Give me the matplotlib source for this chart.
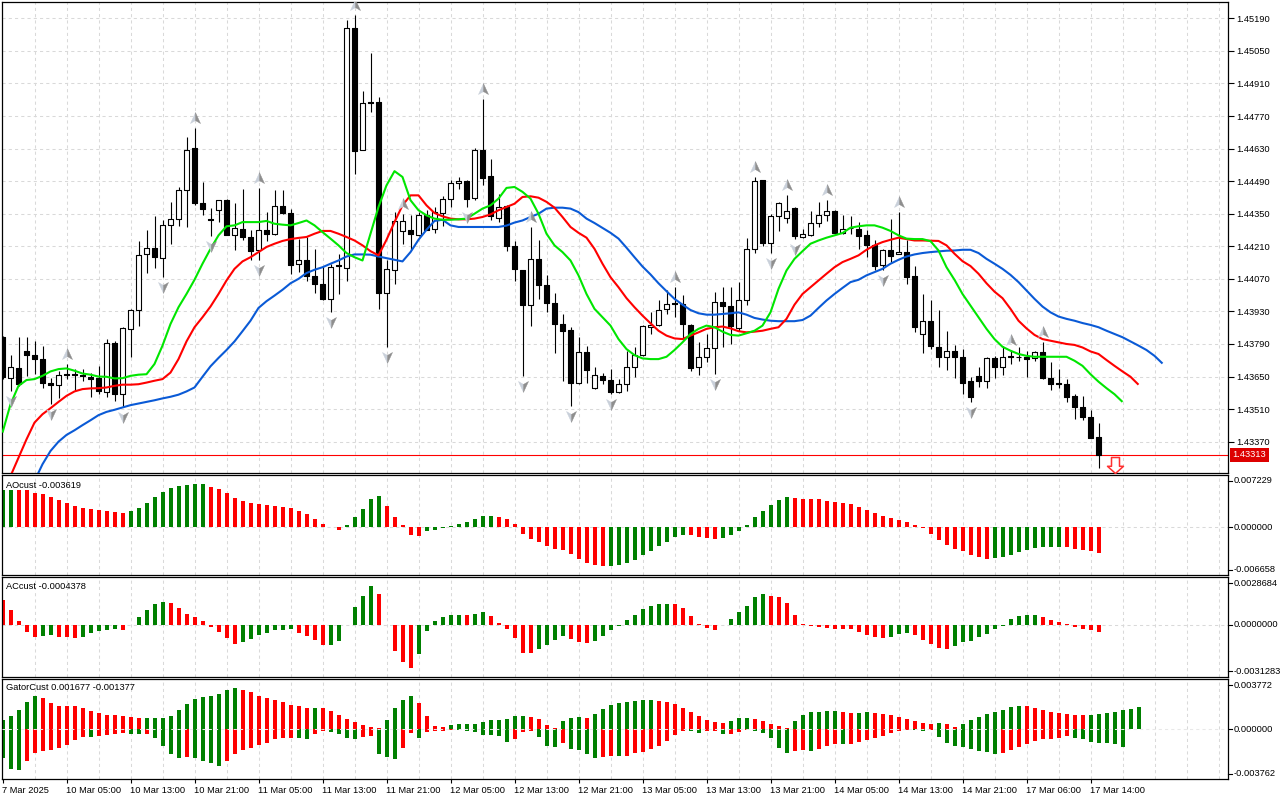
import numpy as np
import matplotlib
matplotlib.use('Agg')
import matplotlib.pyplot as plt
import matplotlib.transforms as mtransforms
from matplotlib.patches import Rectangle
from matplotlib.collections import PatchCollection
from matplotlib.path import Path
from matplotlib.lines import Line2D

plt.rcParams['font.family'] = ['Liberation Sans', 'DejaVu Sans']
FS = 6.7

# ---------------- data (H1 candles) ----------------
open_ = [1.43819, 1.43643, 1.43686, 1.43761, 1.43742, 1.43725, 1.43623, 1.43613, 1.43660, 1.43659,
         1.43657, 1.43650, 1.43642, 1.43584, 1.43794, 1.43574, 1.43855, 1.43937, 1.44175, 1.44204,
         1.44160, 1.44303, 1.44329, 1.44454, 1.44631, 1.44394, 1.44329, 1.44368, 1.44411, 1.44260,
         1.44286, 1.44250, 1.44192, 1.44281, 1.44264, 1.44385, 1.44355, 1.44134, 1.44152, 1.44084,
         1.44048, 1.43984, 1.44124, 1.44117, 1.45148, 1.44626, 1.44829, 1.44829, 1.44008, 1.44109,
         1.44274, 1.44282, 1.44257, 1.44346, 1.44286, 1.44355, 1.44415, 1.44480, 1.44490, 1.44418,
         1.44626, 1.44511, 1.44333, 1.44384, 1.44211, 1.44108, 1.43958, 1.44156, 1.44044, 1.43965,
         1.43876, 1.43850, 1.43624, 1.43754, 1.43600, 1.43653, 1.43636, 1.43585, 1.43617, 1.43693,
         1.43742, 1.43865, 1.43872, 1.43940, 1.43966, 1.43962, 1.43873, 1.43689, 1.43735, 1.43773,
         1.43970, 1.43955, 1.43859, 1.43980, 1.44199, 1.44494, 1.44224, 1.44340, 1.44333, 1.44376,
         1.44250, 1.44257, 1.44310, 1.44346, 1.44360, 1.44268, 1.44287, 1.44286, 1.44257, 1.44214,
         1.44130, 1.44196, 1.44178, 1.44185, 1.44084, 1.43833, 1.43890, 1.43778, 1.43732, 1.43761,
         1.43735, 1.43629, 1.43653, 1.43629, 1.43729, 1.43693, 1.43735, 1.43732, 1.43735, 1.43729,
         1.43757, 1.43643, 1.43622, 1.43617, 1.43567, 1.43520, 1.43476, 1.43390]
high = [1.43826, 1.43744, 1.43821, 1.43821, 1.43804, 1.43783, 1.43643, 1.43675, 1.43704, 1.43682,
        1.43682, 1.43664, 1.43696, 1.43811, 1.43804, 1.43865, 1.43941, 1.44232, 1.44278, 1.44339,
        1.44322, 1.44401, 1.44466, 1.44681, 1.44717, 1.44487, 1.44376, 1.44411, 1.44413, 1.44394,
        1.44458, 1.44278, 1.44462, 1.44358, 1.44454, 1.44451, 1.44372, 1.44242, 1.44250, 1.44199,
        1.44127, 1.44134, 1.44178, 1.45184, 1.45205, 1.44879, 1.45040, 1.44853, 1.44149, 1.44358,
        1.44350, 1.44343, 1.44358, 1.44365, 1.44379, 1.44425, 1.44494, 1.44506, 1.44494, 1.44631,
        1.44843, 1.44587, 1.44433, 1.44387, 1.44231, 1.44110, 1.44293, 1.44238, 1.44088, 1.44009,
        1.43919, 1.43861, 1.43821, 1.43783, 1.43689, 1.43667, 1.43682, 1.43639, 1.43758, 1.43775,
        1.43871, 1.43926, 1.43980, 1.44022, 1.44036, 1.44002, 1.43875, 1.43797, 1.43833, 1.44015,
        1.44036, 1.44036, 1.44055, 1.44247, 1.44508, 1.44497, 1.44350, 1.44400, 1.44429, 1.44378,
        1.44286, 1.44362, 1.44401, 1.44408, 1.44365, 1.44343, 1.44339, 1.44314, 1.44281, 1.44238,
        1.44199, 1.44329, 1.44358, 1.44235, 1.44127, 1.44005, 1.43980, 1.43936, 1.43844, 1.43787,
        1.43768, 1.43649, 1.43692, 1.43732, 1.43739, 1.43783, 1.43764, 1.43775, 1.43761, 1.43761,
        1.43797, 1.43711, 1.43682, 1.43639, 1.43577, 1.43567, 1.43505, 1.43452]
low = [1.43639, 1.43588, 1.43610, 1.43653, 1.43660, 1.43600, 1.43534, 1.43557, 1.43639, 1.43588,
       1.43632, 1.43563, 1.43574, 1.43563, 1.43546, 1.43517, 1.43735, 1.43869, 1.44094, 1.44116,
       1.44080, 1.44218, 1.44296, 1.44293, 1.44389, 1.44343, 1.44255, 1.44314, 1.44257, 1.44195,
       1.44238, 1.44152, 1.44152, 1.44232, 1.44260, 1.44350, 1.44091, 1.44098, 1.44062, 1.44008,
       1.43981, 1.43926, 1.44005, 1.44062, 1.44522, 1.44623, 1.44789, 1.43941, 1.43775, 1.44048,
       1.44221, 1.44195, 1.44253, 1.44278, 1.44267, 1.44296, 1.44379, 1.44455, 1.44379, 1.44408,
       1.44475, 1.44322, 1.44314, 1.44189, 1.44062, 1.43653, 1.43869, 1.43984, 1.43926, 1.43750,
       1.43632, 1.43524, 1.43617, 1.43624, 1.43597, 1.43617, 1.43574, 1.43581, 1.43588, 1.43649,
       1.43739, 1.43833, 1.43869, 1.43919, 1.43908, 1.43811, 1.43675, 1.43657, 1.43711, 1.43660,
       1.43775, 1.43790, 1.43847, 1.43959, 1.44181, 1.44211, 1.44181, 1.44276, 1.44310, 1.44241,
       1.44247, 1.44253, 1.44293, 1.44319, 1.44264, 1.44264, 1.44264, 1.44199, 1.44163, 1.44109,
       1.44106, 1.44142, 1.44175, 1.44048, 1.43840, 1.43750, 1.43768, 1.43692, 1.43678, 1.43642,
       1.43574, 1.43542, 1.43603, 1.43599, 1.43642, 1.43657, 1.43704, 1.43715, 1.43650, 1.43715,
       1.43639, 1.43591, 1.43599, 1.43539, 1.43466, 1.43462, 1.43384, 1.43258]
close = [1.43646, 1.43689, 1.43617, 1.43742, 1.43725, 1.43624, 1.43613, 1.43656, 1.43656, 1.43656,
         1.43652, 1.43639, 1.43588, 1.43794, 1.43574, 1.43859, 1.43937, 1.44173, 1.44204, 1.44163,
         1.44303, 1.44329, 1.44454, 1.44626, 1.44394, 1.44372, 1.44324, 1.44411, 1.44260, 1.44289,
         1.44250, 1.44189, 1.44281, 1.44264, 1.44385, 1.44355, 1.44130, 1.44152, 1.44084, 1.44048,
         1.43984, 1.44120, 1.44130, 1.45148, 1.44620, 1.44825, 1.44826, 1.44008, 1.44113, 1.44317,
         1.44317, 1.44264, 1.44346, 1.44282, 1.44358, 1.44415, 1.44480, 1.44490, 1.44415, 1.44626,
         1.44504, 1.44339, 1.44379, 1.44211, 1.44113, 1.43958, 1.44156, 1.44044, 1.43965, 1.43876,
         1.43847, 1.43624, 1.43754, 1.43678, 1.43657, 1.43634, 1.43585, 1.43617, 1.43693, 1.43742,
         1.43869, 1.43872, 1.43936, 1.43962, 1.43962, 1.43876, 1.43685, 1.43732, 1.43773, 1.43970,
         1.43952, 1.43866, 1.43980, 1.44199, 1.44491, 1.44224, 1.44340, 1.44398, 1.44360, 1.44253,
         1.44264, 1.44312, 1.44346, 1.44360, 1.44268, 1.44286, 1.44290, 1.44253, 1.44214, 1.44127,
         1.44196, 1.44170, 1.44185, 1.44077, 1.43862, 1.43890, 1.43780, 1.43732, 1.43761, 1.43732,
         1.43624, 1.43563, 1.43629, 1.43729, 1.43689, 1.43735, 1.43738, 1.43734, 1.43725, 1.43757,
         1.43642, 1.43620, 1.43620, 1.43563, 1.43517, 1.43474, 1.43387, 1.43313]

# Alligator lines (already shifted forward, so they run past the last candle)
jaw = [1.42899, 1.42985, 1.43071, 1.43143, 1.43201, 1.43273, 1.43330, 1.43370, 1.43399, 1.43419,
       1.43441, 1.43462, 1.43484, 1.43498, 1.43507, 1.43517, 1.43527, 1.43534, 1.43541, 1.43548,
       1.43556, 1.43563, 1.43572, 1.43586, 1.43603, 1.43649, 1.43694, 1.43730, 1.43764, 1.43801,
       1.43845, 1.43890, 1.43945, 1.43974, 1.43998, 1.44023, 1.44051, 1.44070, 1.44095, 1.44109,
       1.44120, 1.44135, 1.44149, 1.44166, 1.44175, 1.44175, 1.44174, 1.44166, 1.44159, 1.44152,
       1.44145, 1.44185, 1.44238, 1.44281, 1.44319, 1.44324, 1.44300, 1.44293, 1.44293, 1.44293,
       1.44293, 1.44293, 1.44293, 1.44299, 1.44312, 1.44321, 1.44336, 1.44350, 1.44372, 1.44376,
       1.44376, 1.44372, 1.44357, 1.44329, 1.44310, 1.44289, 1.44268, 1.44243, 1.44204, 1.44163,
       1.44123, 1.44089, 1.44051, 1.44017, 1.43984, 1.43959, 1.43936, 1.43922, 1.43916, 1.43916,
       1.43919, 1.43922, 1.43926, 1.43916, 1.43902, 1.43895, 1.43890, 1.43888, 1.43888, 1.43888,
       1.43893, 1.43912, 1.43945, 1.43977, 1.44005, 1.44031, 1.44056, 1.44066, 1.44085, 1.44099,
       1.44113, 1.44135, 1.44152, 1.44166, 1.44175, 1.44181, 1.44185, 1.44188, 1.44191, 1.44192,
       1.44195, 1.44195, 1.44181, 1.44156, 1.44135, 1.44113, 1.44087, 1.44056, 1.44020, 1.43984,
       1.43951, 1.43926, 1.43908, 1.43898, 1.43890, 1.43880, 1.43872, 1.43862, 1.43847, 1.43833,
       1.43819, 1.43801, 1.43783, 1.43764, 1.43739, 1.43706]
teeth = [1.43086, 1.43222, 1.43301, 1.43380, 1.43452, 1.43488, 1.43514, 1.43541, 1.43567, 1.43586,
         1.43596, 1.43599, 1.43600, 1.43603, 1.43610, 1.43615, 1.43615, 1.43617, 1.43624, 1.43632,
         1.43639, 1.43667, 1.43725, 1.43801, 1.43862, 1.43905, 1.43951, 1.44005, 1.44063, 1.44113,
         1.44145, 1.44163, 1.44185, 1.44207, 1.44221, 1.44233, 1.44241, 1.44246, 1.44250, 1.44264,
         1.44276, 1.44276, 1.44264, 1.44250, 1.44235, 1.44214, 1.44189, 1.44171, 1.44238, 1.44314,
         1.44386, 1.44429, 1.44429, 1.44386, 1.44353, 1.44339, 1.44329, 1.44326, 1.44326, 1.44329,
         1.44336, 1.44347, 1.44365, 1.44379, 1.44393, 1.44422, 1.44425, 1.44419, 1.44401, 1.44376,
         1.44336, 1.44293, 1.44268, 1.44247, 1.44199, 1.44135, 1.44077, 1.44034, 1.43987, 1.43948,
         1.43912, 1.43879, 1.43847, 1.43826, 1.43814, 1.43811, 1.43826, 1.43840, 1.43855, 1.43862,
         1.43865, 1.43857, 1.43845, 1.43840, 1.43843, 1.43847, 1.43855, 1.43862, 1.43898, 1.43959,
         1.44005, 1.44034, 1.44063, 1.44092, 1.44120, 1.44142, 1.44156, 1.44171, 1.44195, 1.44214,
         1.44228, 1.44238, 1.44247, 1.44241, 1.44235, 1.44235, 1.44234, 1.44233, 1.44214, 1.44178,
         1.44146, 1.44125, 1.44092, 1.44051, 1.44015, 1.43987, 1.43941, 1.43890, 1.43857, 1.43829,
         1.43811, 1.43804, 1.43797, 1.43790, 1.43786, 1.43775, 1.43758, 1.43747, 1.43721, 1.43696,
         1.43672, 1.43649, 1.43615]
lips = [1.43409, 1.43531, 1.43610, 1.43635, 1.43639, 1.43653, 1.43672, 1.43682, 1.43685, 1.43675,
        1.43663, 1.43658, 1.43650, 1.43649, 1.43642, 1.43643, 1.43653, 1.43658, 1.43660, 1.43704,
        1.43783, 1.43876, 1.43948, 1.44005, 1.44066, 1.44135, 1.44199, 1.44257, 1.44296, 1.44300,
        1.44314, 1.44314, 1.44314, 1.44319, 1.44307, 1.44303, 1.44300, 1.44310, 1.44321, 1.44300,
        1.44271, 1.44243, 1.44214, 1.44181, 1.44163, 1.44149, 1.44264, 1.44379, 1.44472, 1.44533,
        1.44508, 1.44408, 1.44365, 1.44343, 1.44329, 1.44324, 1.44324, 1.44326, 1.44329, 1.44350,
        1.44372, 1.44386, 1.44415, 1.44461, 1.44465, 1.44444, 1.44415, 1.44350, 1.44264, 1.44214,
        1.44185, 1.44149, 1.44085, 1.44005, 1.43941, 1.43905, 1.43869, 1.43811, 1.43768, 1.43742,
        1.43728, 1.43725, 1.43725, 1.43735, 1.43764, 1.43797, 1.43833, 1.43855, 1.43869, 1.43862,
        1.43843, 1.43829, 1.43826, 1.43836, 1.43847, 1.43869, 1.43926, 1.44027, 1.44106, 1.44156,
        1.44189, 1.44221, 1.44235, 1.44247, 1.44257, 1.44267, 1.44290, 1.44296, 1.44300, 1.44300,
        1.44290, 1.44276, 1.44257, 1.44243, 1.44241, 1.44241, 1.44232, 1.44192, 1.44120, 1.44066,
        1.44005, 1.43955, 1.43905, 1.43855, 1.43811, 1.43778, 1.43761, 1.43747, 1.43739, 1.43735,
        1.43735, 1.43735, 1.43735, 1.43735, 1.43718, 1.43696, 1.43660, 1.43628, 1.43600, 1.43574,
        1.43541]

# Bill Williams fractals (bar indexes)
fractal_up_bars = [8, 24, 32, 44, 50, 60, 66, 84, 94, 98, 103, 112, 126, 130]
fractal_down_bars = [1, 6, 15, 20, 26, 32, 41, 48, 58, 65, 71, 76, 89, 96, 99, 110, 121]
signal_bar = 139
signal_price = 1.43269

# Awesome Oscillator
ao = [0.00508, 0.00513, 0.00511, 0.00509, 0.00469, 0.00455, 0.00414, 0.00372, 0.00331, 0.00290,
      0.00271, 0.00253, 0.00234, 0.00220, 0.00207, 0.00193, 0.00225, 0.00266, 0.00331, 0.00414,
      0.00483, 0.00538, 0.00566, 0.00580, 0.00594, 0.00596, 0.00561, 0.00525, 0.00469, 0.00400,
      0.00359, 0.00336, 0.00317, 0.00303, 0.00290, 0.00276, 0.00262, 0.00225, 0.00179, 0.00114,
      0.00041, 0.00004, -0.00038, 0.00027, 0.00137, 0.00257, 0.00386, 0.00428, 0.00290, 0.00137,
      0.00027, -0.00107, -0.00121, -0.00052, -0.00038, -0.00019, 0.00013, 0.00041, 0.00068, 0.00110,
      0.00147, 0.00151, 0.00137, 0.00110, 0.00036, -0.00093, -0.00167, -0.00204, -0.00259, -0.00301,
      -0.00319, -0.00374, -0.00443, -0.00494, -0.00522, -0.00540, -0.00538, -0.00522, -0.00494, -0.00457,
      -0.00388, -0.00333, -0.00259, -0.00208, -0.00135, -0.00107, -0.00112, -0.00139, -0.00148, -0.00162,
      -0.00148, -0.00112, -0.00052, 0.00027, 0.00137, 0.00220, 0.00303, 0.00372, 0.00423, 0.00400,
      0.00386, 0.00385, 0.00384, 0.00359, 0.00345, 0.00331, 0.00317, 0.00276, 0.00234, 0.00193,
      0.00151, 0.00124, 0.00096, 0.00068, 0.00027, -0.00019, -0.00093, -0.00176, -0.00245, -0.00301,
      -0.00328, -0.00384, -0.00411, -0.00439, -0.00425, -0.00411, -0.00384, -0.00342, -0.00314, -0.00287,
      -0.00273, -0.00272, -0.00271, -0.00274, -0.00301, -0.00314, -0.00328, -0.003619]
ao_range = [-0.006658, 0.007229]

# Accelerator Oscillator
ac = [0.00147, 0.00091, 0.00024, -0.00046, -0.00072, -0.00066, -0.00060, -0.00072, -0.00073, -0.00078,
      -0.00072, -0.00048, -0.00036, -0.00030, -0.00024, -0.00030, 0.00002, 0.00048, 0.00091, 0.00127,
      0.00139, 0.00133, 0.00103, 0.00066, 0.00048, 0.00024, -0.00012, -0.00042, -0.00078, -0.00115,
      -0.00103, -0.00085, -0.00060, -0.00048, -0.00030, -0.00029, -0.00024, -0.00048, -0.00066, -0.00091,
      -0.00121, -0.00120, -0.00097, -0.00003, 0.00109, 0.00175, 0.00235, 0.00187, -0.00003, -0.00157,
      -0.00223, -0.00260, -0.00175, -0.00036, 0.00024, 0.00048, 0.00060, 0.00061, 0.00059, 0.00066,
      0.00078, 0.00054, 0.00012, -0.00024, -0.00078, -0.00169, -0.00170, -0.00145, -0.00121, -0.00091,
      -0.00066, -0.00085, -0.00103, -0.00109, -0.00097, -0.00066, -0.00030, -0.00004, 0.00030, 0.00060,
      0.00097, 0.00115, 0.00127, 0.00128, 0.00126, 0.00103, 0.00054, 0.00004, -0.00022, -0.00030,
      -0.00003, 0.00036, 0.00078, 0.00115, 0.00169, 0.00187, 0.00175, 0.00169, 0.00133, 0.00060,
      0.00004, -0.00004, -0.00012, -0.00020, -0.00026, -0.00027, -0.00028, -0.00044, -0.00064, -0.00076,
      -0.00082, -0.00076, -0.00058, -0.00052, -0.00064, -0.00089, -0.00113, -0.00137, -0.00143, -0.00125,
      -0.00101, -0.00095, -0.00076, -0.00058, -0.00028, -0.00004, 0.00036, 0.00054, 0.00060, 0.00061,
      0.00048, 0.00030, 0.00018, 0.00006, -0.00016, -0.00028, -0.00029, -0.0004378]
ac_range = [-0.0031283, 0.0028684]

# Gator Oscillator
gator_up = [0.00068, 0.00098, 0.00143, 0.00204, 0.00249, 0.00234, 0.00196, 0.00174, 0.00173, 0.00172,
            0.00158, 0.00136, 0.00121, 0.00106, 0.00105, 0.00098, 0.00091, 0.00083, 0.00084, 0.00085,
            0.00086, 0.00098, 0.00143, 0.00189, 0.00226, 0.00241, 0.00249, 0.00264, 0.00294, 0.00309,
            0.00294, 0.00279, 0.00249, 0.00234, 0.00219, 0.00204, 0.00181, 0.00174, 0.00158, 0.00159,
            0.00157, 0.00136, 0.00106, 0.00075, 0.00053, 0.00030, 0.00015, 0.00008, 0.00068, 0.00158,
            0.00219, 0.00249, 0.00196, 0.00098, 0.00023, 0.00015, 0.00030, 0.00038, 0.00040, 0.00043,
            0.00053, 0.00068, 0.00070, 0.00075, 0.00098, 0.00101, 0.00091, 0.00075, 0.00030, 0.00008,
            0.00060, 0.00083, 0.00091, 0.00088, 0.00113, 0.00151, 0.00181, 0.00196, 0.00204, 0.00211,
            0.00219, 0.00221, 0.00211, 0.00204, 0.00189, 0.00158, 0.00128, 0.00098, 0.00068, 0.00053,
            0.00045, 0.00060, 0.00083, 0.00086, 0.00075, 0.00060, 0.00038, 0.00023, 0.00008, 0.00060,
            0.00106, 0.00128, 0.00131, 0.00136, 0.00139, 0.00131, 0.00123, 0.00124, 0.00131, 0.00123,
            0.00116, 0.00108, 0.00093, 0.00078, 0.00063, 0.00048, 0.00040, 0.00048, 0.00040, 0.00015,
            0.00040, 0.00070, 0.00093, 0.00116, 0.00131, 0.00146, 0.00169, 0.00176, 0.00175, 0.00161,
            0.00146, 0.00131, 0.00123, 0.00116, 0.00108, 0.00107, 0.00109, 0.00116, 0.00123, 0.00131,
            0.00146, 0.00153, 0.001677]
gator_down = [-0.00219, -0.00302, -0.00309, -0.00241, -0.00181, -0.00166, -0.00158, -0.00143, -0.00121, -0.00083,
              -0.00060, -0.00061, -0.00053, -0.00045, -0.00038, -0.00030, -0.00038, -0.00039, -0.00037, -0.00068,
              -0.00128, -0.00189, -0.00219, -0.00211, -0.00219, -0.00241, -0.00257, -0.00279, -0.00241, -0.00189,
              -0.00158, -0.00143, -0.00121, -0.00106, -0.00075, -0.00068, -0.00067, -0.00068, -0.00075, -0.00038,
              -0.00010, -0.00023, -0.00038, -0.00068, -0.00075, -0.00060, -0.00053, -0.00189, -0.00211, -0.00226,
              -0.00143, -0.00030, -0.00068, -0.00018, -0.00017, -0.00016, -0.00008, -0.00009, -0.00010, -0.00023,
              -0.00045, -0.00046, -0.00053, -0.00098, -0.00075, -0.00023, -0.00015, -0.00060, -0.00128, -0.00136,
              -0.00106, -0.00151, -0.00158, -0.00189, -0.00219, -0.00211, -0.00204, -0.00205, -0.00203, -0.00181,
              -0.00174, -0.00151, -0.00128, -0.00091, -0.00045, -0.00015, -0.00016, -0.00030, -0.00015, -0.00014,
              -0.00038, -0.00037, -0.00023, -0.00008, -0.00015, -0.00030, -0.00068, -0.00143, -0.00181, -0.00166,
              -0.00158, -0.00166, -0.00151, -0.00128, -0.00111, -0.00112, -0.00110, -0.00096, -0.00080, -0.00065,
              -0.00050, -0.00028, -0.00013, -0.00005, -0.00006, -0.00013, -0.00005, -0.00058, -0.00103, -0.00126,
              -0.00133, -0.00148, -0.00163, -0.00171, -0.00186, -0.00179, -0.00156, -0.00133, -0.00111, -0.00088,
              -0.00073, -0.00072, -0.00065, -0.00050, -0.00065, -0.00073, -0.00096, -0.00103, -0.00104, -0.00111,
              -0.001377]
gator_range = [-0.003762, 0.003772]

price_ticks = [1.45190, 1.45050, 1.44910, 1.44770, 1.44630, 1.44490, 1.44350,
               1.44210, 1.44070, 1.43930, 1.43790, 1.43650, 1.43510, 1.43370]
price_range = [1.43234, 1.45259]
time_labels = ['7 Mar 2025', '10 Mar 05:00', '10 Mar 13:00', '10 Mar 21:00', '11 Mar 05:00',
               '11 Mar 13:00', '11 Mar 21:00', '12 Mar 05:00', '12 Mar 13:00', '12 Mar 21:00',
               '13 Mar 05:00', '13 Mar 13:00', '13 Mar 21:00', '14 Mar 05:00', '14 Mar 13:00',
               '14 Mar 21:00', '17 Mar 06:00', '17 Mar 14:00']
time_label_step = 8

# ---------------- style ----------------
GREEN_H = '#008000'
RED_H = '#ff0000'
C_JAW = '#0a5ad6'
C_TEETH = '#ff0000'
C_LIPS = '#00e600'
GRID = '#d9d9d9'
DASH = (0, (3, 3))

W, H = 1280, 800
fig = plt.figure(figsize=(W / 100, H / 100), dpi=100)
fig.patch.set_facecolor('white')

L_PX, R_PX = 2.3, 1227.7
AXW = R_PX - L_PX


def axrect(top, bottom):
    return [L_PX / W, 1 - bottom / H, AXW / W, (bottom - top) / H]


ax = fig.add_axes(axrect(2.3, 473.3))
ax_ao = fig.add_axes(axrect(475.0, 575.0))
ax_ac = fig.add_axes(axrect(577.3, 676.7))
ax_g = fig.add_axes(axrect(679.3, 779.0))
all_axes = [ax, ax_ao, ax_ac, ax_g]

XMIN, XMAX = -0.025, 153.15
for a in all_axes:
    a.set_xlim(XMIN, XMAX)
    a.set_facecolor('white')
    for s in a.spines.values():
        s.set_color('black')
        s.set_linewidth(0.9)
    a.tick_params(axis='x', which='both', bottom=False, labelbottom=False)
    for gx in range(4, 153, 4):
        a.axvline(gx, color=GRID, lw=0.75, ls=DASH, zorder=0)

# ---------------- main price panel ----------------
n = len(close)
x = np.arange(n)
ax.set_ylim(*price_range)
for p in price_ticks:
    ax.axhline(p, color=GRID, lw=0.75, ls=DASH, zorder=0)
ax.yaxis.tick_right()
ax.set_yticks(price_ticks)
ax.set_yticklabels([f'{p:.5f}' for p in price_ticks])
ax.tick_params(axis='y', direction='out', length=4, width=0.8, pad=2, labelsize=FS)

ax.vlines(x, low, high, color='black', lw=0.8, zorder=3)
rects, fcs = [], []
for i in range(n):
    o, c = open_[i], close[i]
    bot = min(o, c)
    hgt = max(abs(c - o), 1e-7)
    rects.append(Rectangle((i - 0.27, bot), 0.54, hgt))
    fcs.append('white' if c > o else 'black')
ax.add_collection(PatchCollection(rects, facecolors=fcs, edgecolors='black',
                                  linewidths=0.8, zorder=4))

ax.plot(np.arange(len(jaw)), jaw, color=C_JAW, lw=1.5, zorder=5, solid_capstyle='butt')
ax.plot(np.arange(len(teeth)), teeth, color=C_TEETH, lw=1.5, zorder=5, solid_capstyle='butt')
ax.plot(np.arange(len(lips)), lips, color=C_LIPS, lw=1.5, zorder=5, solid_capstyle='butt')

# last price line and label
ax.axhline(close[-1], color='#ff0000', lw=0.8, zorder=2)
ax.text(1 + 5.0 / AXW, close[-1], f'{close[-1]:.5f}', transform=ax.get_yaxis_transform(),
        ha='left', va='center', fontsize=FS, color='white', zorder=20, clip_on=False,
        bbox=dict(boxstyle='square,pad=0.3', fc='#dd0000', ec='none'))

# fractal arrows (two-tone, like the terminal's shaded arrow glyph)
CL = [Path.MOVETO, Path.LINETO, Path.LINETO, Path.CLOSEPOLY]
up_left = Path([(0, 1), (0, -0.35), (-0.85, -0.85), (0, 1)], CL)
up_right = Path([(0, 1), (0.85, -0.85), (0, -0.35), (0, 1)], CL)
dn_left = Path([(0, -1), (0, 0.35), (-0.85, 0.85), (0, -1)], CL)
dn_right = Path([(0, -1), (0.85, 0.85), (0, 0.35), (0, -1)], CL)
tr_up = mtransforms.offset_copy(ax.transData, fig=fig, x=0, y=10, units='dots')
tr_dn = mtransforms.offset_copy(ax.transData, fig=fig, x=0, y=-10, units='dots')
up_y = [high[i] for i in fractal_up_bars]
dn_y = [low[i] for i in fractal_down_bars]
for pth, col in ((up_left, '#c9d0da'), (up_right, '#8e8e8e')):
    ax.plot(fractal_up_bars, up_y, ls='none', marker=pth, ms=8.5, mfc=col, mec=col,
            mew=0.3, transform=tr_up, zorder=6)
for pth, col in ((dn_left, '#c9d0da'), (dn_right, '#8e8e8e')):
    ax.plot(fractal_down_bars, dn_y, ls='none', marker=pth, ms=8.5, mfc=col, mec=col,
            mew=0.3, transform=tr_dn, zorder=6)

# sell signal arrow
sig_path = Path([(-0.5, 1), (0.5, 1), (0.5, -0.1), (1, -0.1), (0, -1), (-1, -0.1), (-0.5, -0.1), (-0.5, 1)],
                [Path.MOVETO] + [Path.LINETO] * 6 + [Path.CLOSEPOLY])
ax.plot([signal_bar], [signal_price], ls='none', marker=sig_path, ms=11.5,
        mfc='white', mec='#ff3030', mew=1.1, zorder=7)


# ---------------- indicator helpers ----------------
def hist_colors(vals, first, use_abs=False):
    cols = []
    for k, v in enumerate(vals):
        if k == 0:
            cols.append(first)
            continue
        a, b = (abs(v), abs(vals[k - 1])) if use_abs else (v, vals[k - 1])
        if a > b:
            cols.append(GREEN_H)
        elif a < b:
            cols.append(RED_H)
        else:
            cols.append(cols[-1])
    return cols


def side_labels(a, rng, decimals):
    lo, hi = rng
    a.set_ylim(lo, hi)
    a.set_yticks([])
    specs = [(1.0, -5.7, hi), ((0 - lo) / (hi - lo), 0.0, 0.0), (0.0, 5.3, lo)]
    for yf, dy, v in specs:
        tr = a.transAxes + mtransforms.ScaledTranslation(0, dy / 100, fig.dpi_scale_trans)
        a.add_line(Line2D([1, 1 + 4 / AXW], [yf, yf], transform=tr, color='black',
                          lw=0.8, clip_on=False))
        a.text(1 + 5.5 / AXW, yf, f'{v:.{decimals}f}', transform=tr, va='center', ha='left',
               fontsize=FS, clip_on=False)


def panel_title(a, yfrac, text):
    a.text((6 - L_PX) / AXW, yfrac, text, transform=a.transAxes, ha='left', va='center',
           fontsize=FS, zorder=10)


# AO
ax_ao.axhline(0, color=GRID, lw=0.75, ls=DASH, zorder=1)
ax_ao.bar(np.arange(len(ao)), ao, width=0.5, color=hist_colors(ao, GREEN_H), lw=0, zorder=2)
side_labels(ax_ao, ao_range, 6)
panel_title(ax_ao, 0.90, f'AOcust {ao[-1]:.6f}')

# AC
ax_ac.axhline(0, color=GRID, lw=0.75, ls=DASH, zorder=1)
ax_ac.bar(np.arange(len(ac)), ac, width=0.5, color=hist_colors(ac, RED_H), lw=0, zorder=2)
side_labels(ax_ac, ac_range, 7)
panel_title(ax_ac, 0.912, f'ACcust {ac[-1]:.7f}')

# Gator
ax_g.bar(np.arange(len(gator_up)), gator_up, width=0.5, color=hist_colors(gator_up, GREEN_H),
         lw=0, zorder=2)
ax_g.bar(np.arange(len(gator_down)), gator_down, width=0.5,
         color=hist_colors(gator_down, GREEN_H, use_abs=True), lw=0, zorder=2)
ax_g.axhline(0, color='#e8e8e8', lw=0.75, ls=DASH, zorder=3)
side_labels(ax_g, gator_range, 6)
panel_title(ax_g, 0.913, f'GatorCust {gator_up[-1]:.6f} {gator_down[-1]:.6f}')

# time axis
tick_pos = [k * time_label_step for k in range(len(time_labels))]
ax_g.set_xticks(tick_pos)
ax_g.set_xticklabels(time_labels)
ax_g.tick_params(axis='x', bottom=True, labelbottom=True, direction='out', length=3,
                 width=0.8, pad=2, labelsize=FS)
for lab in ax_g.get_xticklabels():
    lab.set_horizontalalignment('left')

fig.savefig('out.png', dpi=100, facecolor='white')
